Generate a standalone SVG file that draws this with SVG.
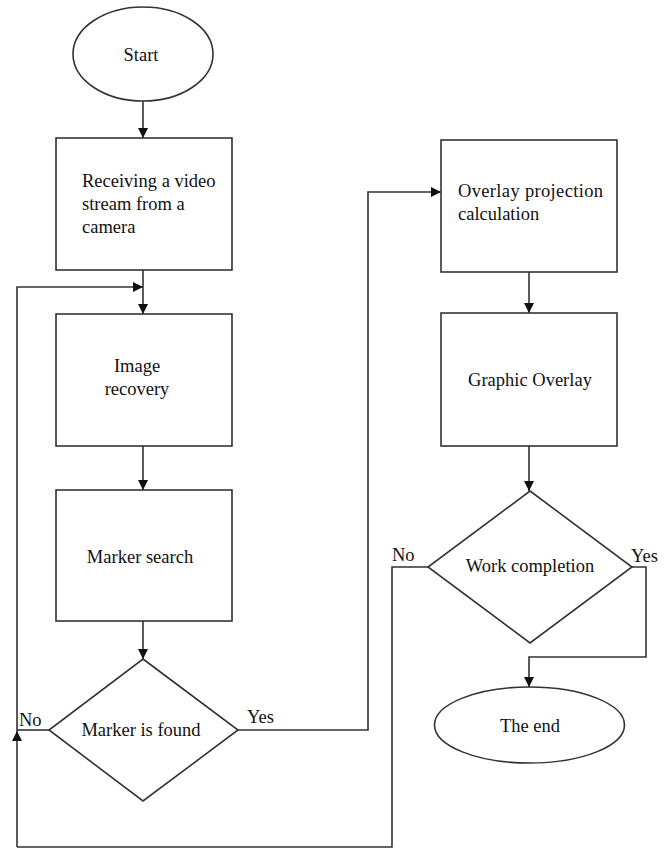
<svg xmlns="http://www.w3.org/2000/svg" width="665" height="850" viewBox="0 0 665 850" font-family="'Liberation Serif', 'Times New Roman', Times, serif">
<style>
.shape{fill:#fff;stroke:#333;stroke-width:1.6}
.conn{fill:none;stroke:#333;stroke-width:1.6}
text{font-family:'Liberation Serif','Times New Roman',Times,serif;font-size:18.5px;fill:#111}
.c{text-anchor:middle}
</style>
<defs>
<marker id="arr" viewBox="0 0 10 10" refX="10" refY="5" markerWidth="10" markerHeight="10" markerUnits="userSpaceOnUse" orient="auto">
<path d="M0,0 L10,5 L0,10 z" fill="#111"/>
</marker>
</defs>
<rect width="665" height="850" fill="#fff"/>
<g id="connectors">
<path class="conn" d="M143,101 V138" marker-end="url(#arr)"/>
<path class="conn" d="M143,270 V314" marker-end="url(#arr)"/>
<path class="conn" d="M17,731 V287 H143" marker-end="url(#arr)"/>
<path class="conn" d="M143,446 V490" marker-end="url(#arr)"/>
<path class="conn" d="M143,621 V659" marker-end="url(#arr)"/>
<path class="conn" d="M49,730 H17"/>
<path class="conn" d="M17,847 V731" marker-end="url(#arr)"/>
<path class="conn" d="M238,730 H368 V192 H441" marker-end="url(#arr)"/>
<path class="conn" d="M529,272 V313" marker-end="url(#arr)"/>
<path class="conn" d="M529,446 V491" marker-end="url(#arr)"/>
<path class="conn" d="M632,567 H646 V657 H529 V687" marker-end="url(#arr)"/>
<path class="conn" d="M428,567 H392 V847 H17"/>
<text x="19" y="726">No</text>
<text x="247" y="723">Yes</text>
<text x="392" y="561">No</text>
<text x="631" y="562">Yes</text>
</g>
<g id="start">
<ellipse class="shape" cx="143" cy="54" rx="70" ry="47"/>
<text class="c" x="141" y="61">Start</text>
</g>
<g id="receive">
<rect class="shape" x="56" y="138" width="176" height="132"/>
<text x="82" y="187">Receiving a video</text>
<text x="82" y="210">stream from a</text>
<text x="82" y="233">camera</text>
</g>
<g id="recovery">
<rect class="shape" x="56" y="314" width="176" height="132"/>
<text class="c" x="137" y="372">Image</text>
<text class="c" x="137" y="395">recovery</text>
</g>
<g id="search">
<rect class="shape" x="56" y="490" width="176" height="131"/>
<text class="c" x="140" y="563">Marker search</text>
</g>
<g id="found">
<polygon class="shape" points="143,659 238,730 143,801 49,730"/>
<text class="c" x="141" y="736">Marker is found</text>
</g>
<g id="projection">
<rect class="shape" x="441" y="140" width="176" height="132"/>
<text x="458" y="197" textLength="145" lengthAdjust="spacing">Overlay projection</text>
<text x="458" y="220">calculation</text>
</g>
<g id="graphic">
<rect class="shape" x="441" y="313" width="176" height="133"/>
<text class="c" x="530" y="386">Graphic Overlay</text>
</g>
<g id="completion">
<polygon class="shape" points="530,491 632,567 530,643 428,567"/>
<text class="c" x="530" y="572">Work completion</text>
</g>
<g id="end">
<ellipse class="shape" cx="529.5" cy="725" rx="95" ry="38"/>
<text class="c" x="530" y="732">The end</text>
</g>
</svg>
